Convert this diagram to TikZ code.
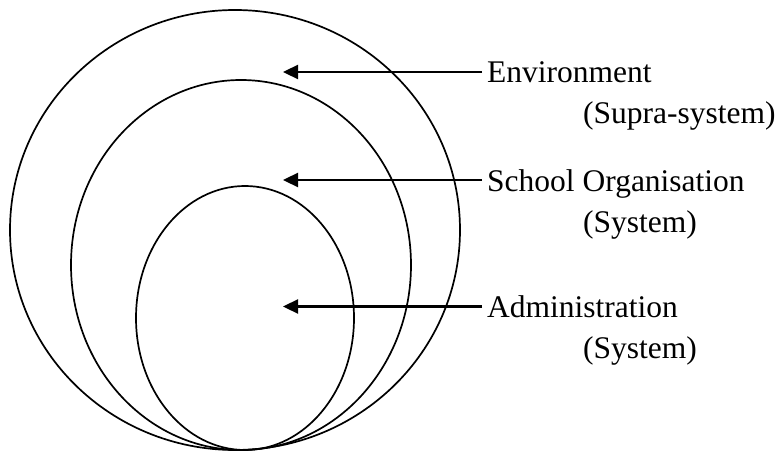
\documentclass[tikz,border=0pt]{standalone}
\usepackage{fontspec}
\setmainfont{Liberation Serif}
\usetikzlibrary{arrows.meta,shapes.geometric}
\begin{document}
\begin{tikzpicture}[x=1pt,y=-1pt,
  ring/.style={ellipse, draw=black, line width=1.7pt, inner sep=0pt, outer sep=0pt},
  pointer/.style={line width=2.3pt, -{Triangle[length=15pt,width=14pt]}},
  lbl/.style={anchor=base west, inner sep=0pt, font=\fontsize{31.5}{38}\selectfont}]
\useasboundingbox (0,0) rectangle (777,452);

% nested systems, all touching at the bottom
\node[ring, minimum width=450pt, minimum height=440pt] (envring) at (235,230) {};
\node[ring, minimum width=340pt, minimum height=370pt] (schoolring) at (241,265) {};
\node[ring, minimum width=218pt, minimum height=264pt] (adminring) at (245,318) {};

% labels
\node[lbl] (env)     at (487,82.5)  {Environment};
\node[lbl] (envsub)  at (583,123.5) {(Supra-system)};
\node[lbl] (school)  at (487,191)   {School Organisation};
\node[lbl] (schsub)  at (583,232)   {(System)};
\node[lbl] (admin)   at (487,317.5) {Administration};
\node[lbl] (admsub)  at (583,358.5) {(System)};

% pointers
\coordinate (s1) at (482,72);  \coordinate (t1) at (283,72);
\coordinate (s2) at (482,180); \coordinate (t2) at (283,180);
\coordinate (s3) at (482,306.5); \coordinate (t3) at (283,306.5);
\draw[pointer] (s1) -- (t1);
\draw[pointer] (s2) -- (t2);
\draw[pointer] (s3) -- (t3);
\end{tikzpicture}
\end{document}
